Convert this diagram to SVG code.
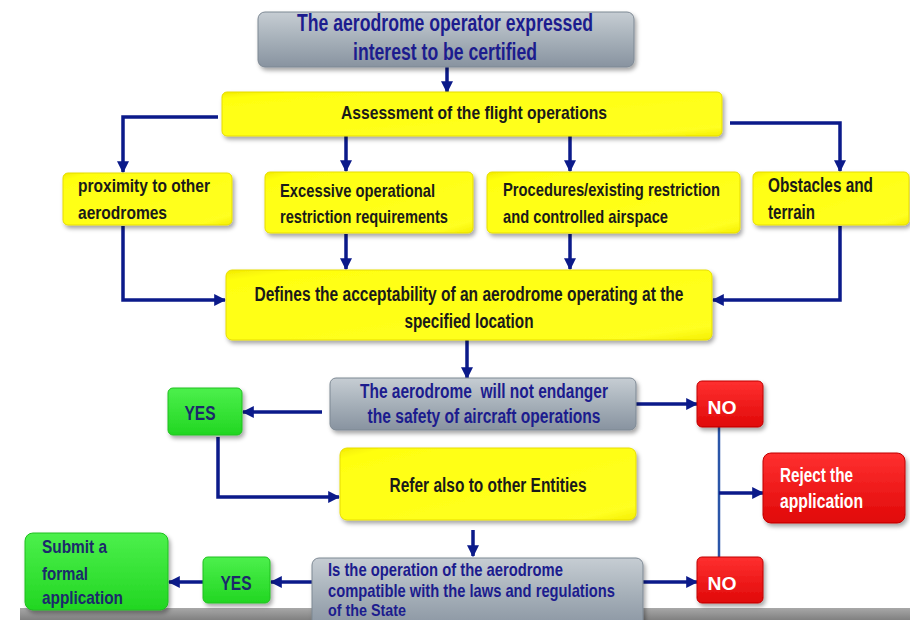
<svg xmlns="http://www.w3.org/2000/svg" width="910" height="620" viewBox="0 0 910 620">
<defs>
  <linearGradient id="gGray" x1="0" y1="0" x2="0" y2="1">
    <stop offset="0" stop-color="#c6cdd3"/>
    <stop offset="0.5" stop-color="#a6b0b9"/>
    <stop offset="1" stop-color="#8893a0"/>
  </linearGradient>
  <linearGradient id="gYellow" x1="0" y1="0" x2="1" y2="1">
    <stop offset="0" stop-color="#f2ea00"/>
    <stop offset="0.08" stop-color="#ffff10"/>
    <stop offset="0.9" stop-color="#ffff20"/>
    <stop offset="1" stop-color="#f4ee00"/>
  </linearGradient>
  <linearGradient id="gGreen" x1="0" y1="0" x2="0" y2="1">
    <stop offset="0" stop-color="#4cf04c"/>
    <stop offset="1" stop-color="#22d622"/>
  </linearGradient>
  <linearGradient id="gRed" x1="0" y1="0" x2="0" y2="1">
    <stop offset="0" stop-color="#ff3030"/>
    <stop offset="1" stop-color="#e00808"/>
  </linearGradient>
  <linearGradient id="gBar" x1="0" y1="0" x2="0" y2="1">
    <stop offset="0" stop-color="#a8a8a8"/>
    <stop offset="1" stop-color="#808080"/>
  </linearGradient>
  <filter id="sh" x="-10%" y="-20%" width="125%" height="150%">
    <feDropShadow dx="2" dy="3" stdDeviation="2" flood-color="#000" flood-opacity="0.35"/>
  </filter>
  <marker id="ah" viewBox="0 0 10 10" refX="9" refY="5" markerWidth="12" markerHeight="12" markerUnits="userSpaceOnUse" orient="auto">
    <path d="M0,0 L10,5 L0,10 z" fill="#0b1a8a"/>
  </marker>
</defs>
<style>
  .t { font-family: "Liberation Sans Narrow", "Liberation Sans", Arial, sans-serif; font-weight: bold; }
  .gray { fill: url(#gGray); stroke: #7d8893; stroke-width: 1; filter: url(#sh); }
  .yel { fill: url(#gYellow); stroke: #e6dc00; stroke-width: 1; filter: url(#sh); }
  .grn { fill: url(#gGreen); stroke: #1ec01e; stroke-width: 1; filter: url(#sh); }
  .red { fill: url(#gRed); stroke: #c00000; stroke-width: 1; filter: url(#sh); }
  .tb { fill: #1c1c8e; }
  .tk { fill: #1a1a1a; }
  .tn { fill: #1b2a6b; }
  .tw { fill: #ffffff; }
  .c { fill: none; stroke: #0b1a8a; stroke-width: 3.5; marker-end: url(#ah); }
  .cl { fill: none; stroke: #2a55a8; stroke-width: 2.5; }
</style>

<rect x="20" y="608" width="890" height="12" fill="url(#gBar)"/>

<g id="connectors">
  <path class="c" d="M447,67 V92"/>
  <path class="c" d="M218,117 H123 V172"/>
  <path class="c" d="M346,136 V171"/>
  <path class="c" d="M570,136 V171"/>
  <path class="c" d="M730,123 H840 V171"/>
  <path class="c" d="M123,226 V300 H225"/>
  <path class="c" d="M346,234 V269"/>
  <path class="c" d="M570,234 V269"/>
  <path class="c" d="M840,226 V300 H713"/>
  <path class="c" d="M467,340 V378"/>
  <path class="c" d="M322,412 H243"/>
  <path class="c" d="M218,437 V497 H339"/>
  <path class="c" d="M636,404 H697"/>
  <path class="cl" d="M719,427 V557"/>
  <path class="c" d="M719,493 H763"/>
  <path class="c" d="M473,530 V556"/>
  <path class="c" d="M643,582 H697"/>
  <path class="c" d="M312,582 H271"/>
  <path class="c" d="M203,582 H169"/>
</g>

<g id="n-start">
  <rect class="gray" x="258" y="12" width="376" height="55" rx="7"/>
  <text class="t tb" x="445" y="31" font-size="23" text-anchor="middle" textLength="296" lengthAdjust="spacingAndGlyphs">The aerodrome operator expressed</text>
  <text class="t tb" x="445" y="60" font-size="23" text-anchor="middle" textLength="184" lengthAdjust="spacingAndGlyphs">interest to be certified</text>
</g>

<g id="n-assess">
  <rect class="yel" x="222" y="92" width="500" height="44" rx="5"/>
  <text class="t tk" x="341" y="119" font-size="19" textLength="266" lengthAdjust="spacingAndGlyphs">Assessment of the flight operations</text>
</g>

<g id="n-proximity">
  <rect class="yel" x="63" y="173" width="169" height="52" rx="5"/>
  <text class="t tk" x="78" y="192" font-size="19" textLength="132" lengthAdjust="spacingAndGlyphs">proximity to other</text>
  <text class="t tk" x="78" y="219" font-size="19" textLength="89" lengthAdjust="spacingAndGlyphs">aerodromes</text>
</g>

<g id="n-excessive">
  <rect class="yel" x="265" y="172" width="208" height="61" rx="5"/>
  <text class="t tk" x="280" y="197" font-size="19" textLength="155" lengthAdjust="spacingAndGlyphs">Excessive operational</text>
  <text class="t tk" x="280" y="223" font-size="19" textLength="168" lengthAdjust="spacingAndGlyphs">restriction requirements</text>
</g>

<g id="n-procedures">
  <rect class="yel" x="487" y="172" width="253" height="61" rx="5"/>
  <text class="t tk" x="503" y="196" font-size="19" textLength="217" lengthAdjust="spacingAndGlyphs">Procedures/existing restriction</text>
  <text class="t tk" x="503" y="223" font-size="19" textLength="165" lengthAdjust="spacingAndGlyphs">and controlled airspace</text>
</g>

<g id="n-obstacles">
  <rect class="yel" x="753" y="172" width="156" height="53" rx="5"/>
  <text class="t tk" x="768" y="192" font-size="21" textLength="105" lengthAdjust="spacingAndGlyphs">Obstacles and</text>
  <text class="t tk" x="768" y="219" font-size="21" textLength="47" lengthAdjust="spacingAndGlyphs">terrain</text>
</g>

<g id="n-defines">
  <rect class="yel" x="226" y="270" width="486" height="70" rx="6"/>
  <text class="t tk" x="469" y="301" font-size="20" text-anchor="middle" textLength="429" lengthAdjust="spacingAndGlyphs">Defines the acceptability of an aerodrome operating at the</text>
  <text class="t tk" x="469" y="328" font-size="20" text-anchor="middle" textLength="129" lengthAdjust="spacingAndGlyphs">specified location</text>
</g>

<g id="n-endanger">
  <rect class="gray" x="330" y="378" width="306" height="52" rx="6"/>
  <text class="t tb" x="484" y="398" font-size="20" text-anchor="middle" textLength="248" lengthAdjust="spacingAndGlyphs" style="white-space:pre">The aerodrome  will not endanger</text>
  <text class="t tb" x="484" y="423" font-size="20" text-anchor="middle" textLength="233" lengthAdjust="spacingAndGlyphs">the safety of aircraft operations</text>
</g>

<g id="n-yes1">
  <rect class="grn" x="168" y="388" width="74" height="47" rx="5"/>
  <text class="t tn" x="200" y="420" font-size="21" text-anchor="middle" textLength="31" lengthAdjust="spacingAndGlyphs">YES</text>
</g>

<g id="n-refer">
  <rect class="yel" x="340" y="448" width="296" height="72" rx="7"/>
  <text class="t tk" x="488" y="492" font-size="20" text-anchor="middle" textLength="197" lengthAdjust="spacingAndGlyphs">Refer also to other Entities</text>
</g>

<g id="n-no1">
  <rect class="red" x="697" y="381" width="66" height="46" rx="5"/>
  <text class="t tw" x="722" y="414" font-size="19" text-anchor="middle" textLength="29" lengthAdjust="spacingAndGlyphs">NO</text>
</g>

<g id="n-reject">
  <rect class="red" x="763" y="453" width="142" height="70" rx="8"/>
  <text class="t tw" x="780" y="482" font-size="20" textLength="73" lengthAdjust="spacingAndGlyphs">Reject the</text>
  <text class="t tw" x="780" y="508" font-size="20" textLength="83" lengthAdjust="spacingAndGlyphs">application</text>
</g>

<g id="n-no2">
  <rect class="red" x="697" y="557" width="66" height="46" rx="5"/>
  <text class="t tw" x="722" y="590" font-size="19" text-anchor="middle" textLength="29" lengthAdjust="spacingAndGlyphs">NO</text>
</g>

<g id="n-compatible">
  <rect class="gray" x="312" y="558" width="331" height="72" rx="7"/>
  <text class="t tb" x="328" y="576" font-size="19" textLength="235" lengthAdjust="spacingAndGlyphs">Is the operation of the aerodrome</text>
  <text class="t tb" x="328" y="597" font-size="19" textLength="287" lengthAdjust="spacingAndGlyphs">compatible with the laws and regulations</text>
  <text class="t tb" x="328" y="616" font-size="17" textLength="78" lengthAdjust="spacingAndGlyphs">of the State</text>
</g>

<g id="n-yes2">
  <rect class="grn" x="203" y="557" width="67" height="46" rx="5"/>
  <text class="t tn" x="236" y="590" font-size="20" text-anchor="middle" textLength="31" lengthAdjust="spacingAndGlyphs">YES</text>
</g>

<g id="n-submit">
  <rect class="grn" x="25" y="533" width="143" height="77" rx="8"/>
  <text class="t tn" x="42" y="553" font-size="19" textLength="65" lengthAdjust="spacingAndGlyphs">Submit a</text>
  <text class="t tn" x="42" y="580" font-size="19" textLength="46" lengthAdjust="spacingAndGlyphs">formal</text>
  <text class="t tn" x="42" y="604" font-size="19" textLength="81" lengthAdjust="spacingAndGlyphs">application</text>
</g>
</svg>
